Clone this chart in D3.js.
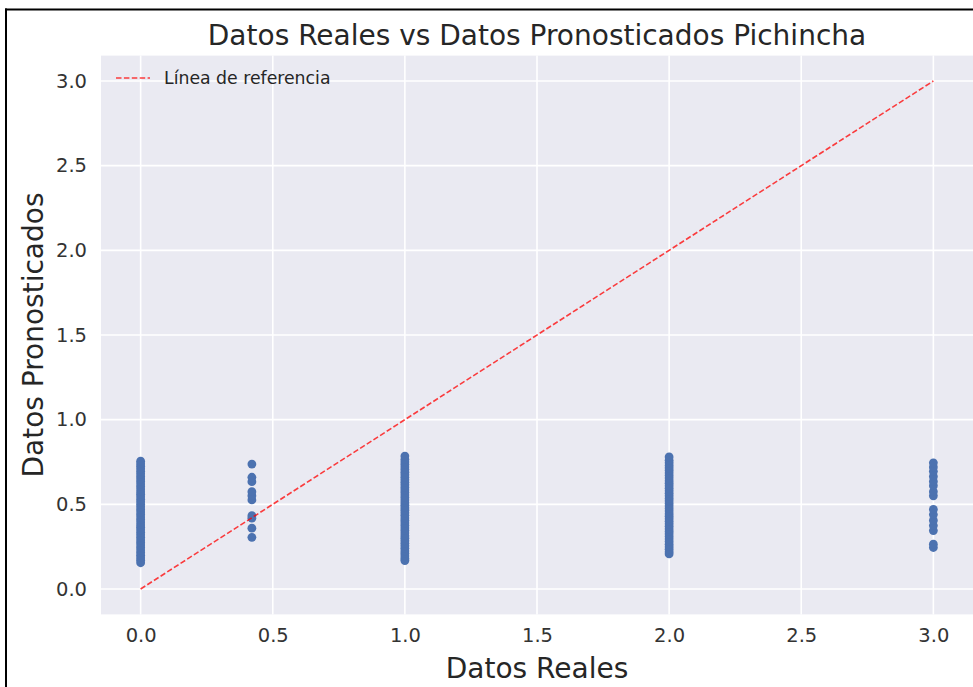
<!DOCTYPE html>
<html lang="en">
<head>
    <meta charset="UTF-8">
    <title>Datos Reales vs Datos Pronosticados Pichincha</title>
    <script src="https://d3js.org/d3.v7.min.js"></script>
    <style>
        body { margin: 0; padding: 0; background: #fff; }
        svg { display: block; font-family: "DejaVu Sans", sans-serif; }
    </style>
</head>
<body>
<script>
    // Valores reales (x) y pronosticados (y)
    const real0 = 0;
    const pred0 = [0.155, 0.17, 0.185, 0.2, 0.215, 0.23, 0.245, 0.26, 0.275, 0.29, 0.305, 0.32,
        0.335, 0.35, 0.365, 0.38, 0.395, 0.41, 0.425, 0.44, 0.455, 0.47, 0.485, 0.5, 0.515,
        0.53, 0.545, 0.56, 0.575, 0.59, 0.605, 0.62, 0.635, 0.65, 0.665, 0.68, 0.695, 0.71,
        0.725, 0.74, 0.755];
    const realB = 0.421;
    const predB = [0.305, 0.359, 0.418, 0.433, 0.526, 0.551, 0.575, 0.634, 0.66, 0.738];
    const real1 = 1;
    const pred1 = [0.168, 0.18, 0.195, 0.21, 0.225, 0.24, 0.255, 0.27, 0.285, 0.3, 0.315, 0.33,
        0.345, 0.36, 0.375, 0.39, 0.405, 0.42, 0.435, 0.45, 0.465, 0.48, 0.495, 0.51, 0.525,
        0.54, 0.555, 0.57, 0.585, 0.6, 0.615, 0.63, 0.645, 0.66, 0.675, 0.69, 0.705, 0.72,
        0.735, 0.75, 0.765, 0.785];
    const real2 = 2;
    const pred2 = [0.207, 0.22, 0.235, 0.25, 0.265, 0.28, 0.295, 0.31, 0.325, 0.34, 0.355, 0.37,
        0.385, 0.4, 0.415, 0.43, 0.445, 0.46, 0.475, 0.49, 0.505, 0.52, 0.535, 0.55, 0.565,
        0.58, 0.595, 0.61, 0.625, 0.64, 0.655, 0.67, 0.685, 0.7, 0.715, 0.73, 0.745, 0.76, 0.78];
    const real3 = 3;
    const pred3 = [0.245, 0.265, 0.345, 0.375, 0.405, 0.44, 0.47, 0.55, 0.575, 0.61, 0.635,
        0.665, 0.695, 0.72, 0.745];

    const refLine = [[0, 0], [3, 3]];
    const xTicks = [0.0, 0.5, 1.0, 1.5, 2.0, 2.5, 3.0];
    const yTicks = [0.0, 0.5, 1.0, 1.5, 2.0, 2.5, 3.0];

    const points = [].concat(
        pred0.map(v => [real0, v]),
        predB.map(v => [realB, v]),
        pred1.map(v => [real1, v]),
        pred2.map(v => [real2, v]),
        pred3.map(v => [real3, v])
    );

    const width = 973, height = 687;
    const margin = { top: 55.6, right: 0, bottom: 72.6, left: 101 };

    const svg = d3.select("body").append("svg")
        .attr("width", width)
        .attr("height", height);

    // marco negro de la captura
    svg.append("line").attr("x1", 5).attr("x2", width).attr("y1", 9.5).attr("y2", 9.5)
        .attr("stroke", "#000").attr("stroke-width", 2);
    svg.append("line").attr("x1", 6).attr("x2", 6).attr("y1", 8.5).attr("y2", height)
        .attr("stroke", "#000").attr("stroke-width", 2);

    const x = d3.scaleLinear().domain([-0.15, 3.15])
        .range([margin.left, width - margin.right]);
    const y = d3.scaleLinear().domain([-0.15, 3.15])
        .range([height - margin.bottom, margin.top]);

    const g = svg.append("g");

    g.append("rect")
        .attr("x", x.range()[0]).attr("y", y.range()[1])
        .attr("width", x.range()[1] - x.range()[0])
        .attr("height", y.range()[0] - y.range()[1])
        .attr("fill", "#eaeaf2");

    // rejilla
    g.selectAll(".gx").data(xTicks).enter().append("line")
        .attr("x1", d => x(d)).attr("x2", d => x(d))
        .attr("y1", y.range()[0]).attr("y2", y.range()[1])
        .attr("stroke", "#fff").attr("stroke-width", 1.6);
    g.selectAll(".gy").data(yTicks).enter().append("line")
        .attr("y1", d => y(d)).attr("y2", d => y(d))
        .attr("x1", x.range()[0]).attr("x2", x.range()[1])
        .attr("stroke", "#fff").attr("stroke-width", 1.6);

    // puntos
    g.selectAll("circle").data(points).enter().append("circle")
        .attr("cx", d => x(d[0]))
        .attr("cy", d => y(d[1]))
        .attr("r", 4.4)
        .attr("fill", "#4c72b0");

    // linea de referencia
    g.append("path")
        .attr("d", d3.line().x(d => x(d[0])).y(d => y(d[1]))(refLine))
        .attr("fill", "none")
        .attr("stroke", "#ff0000")
        .attr("stroke-opacity", 0.75)
        .attr("stroke-width", 1.6)
        .attr("stroke-dasharray", "5.5,2.4");

    // ejes (sin marcas, solo etiquetas)
    const xAxis = svg.append("g")
        .attr("transform", `translate(0,${y.range()[0]})`)
        .call(d3.axisBottom(x).tickValues(xTicks).tickFormat(d3.format(".1f")).tickSize(0).tickPadding(14));
    const yAxis = svg.append("g")
        .attr("transform", `translate(${x.range()[0]},0)`)
        .call(d3.axisLeft(y).tickValues(yTicks).tickFormat(d3.format(".1f")).tickSize(0).tickPadding(14));
    [xAxis, yAxis].forEach(a => {
        a.select(".domain").remove();
        a.selectAll("text")
            .attr("font-family", "DejaVu Sans")
            .attr("font-size", 19.5)
            .attr("fill", "#333");
    });

    // leyenda
    svg.append("line")
        .attr("x1", 116).attr("x2", 150).attr("y1", 78).attr("y2", 78)
        .attr("stroke", "#ff0000").attr("stroke-opacity", 0.75)
        .attr("stroke-width", 1.6).attr("stroke-dasharray", "5.5,2.4");
    svg.append("text")
        .attr("x", 164).attr("y", 78).attr("dy", "0.35em")
        .attr("font-size", 17.3).attr("fill", "#262626")
        .text("Línea de referencia");

    // titulo y etiquetas
    svg.append("text")
        .attr("x", (x.range()[0] + x.range()[1]) / 2).attr("y", 35).attr("dy", "0.35em")
        .attr("text-anchor", "middle").attr("font-size", 28).attr("fill", "#262626")
        .text("Datos Reales vs Datos Pronosticados Pichincha");
    svg.append("text")
        .attr("x", (x.range()[0] + x.range()[1]) / 2).attr("y", 668).attr("dy", "0.35em")
        .attr("text-anchor", "middle").attr("font-size", 28).attr("fill", "#262626")
        .text("Datos Reales");
    svg.append("text")
        .attr("transform", `translate(33,${(y.range()[0] + y.range()[1]) / 2}) rotate(-90)`)
        .attr("dy", "0.35em")
        .attr("text-anchor", "middle").attr("font-size", 28).attr("fill", "#262626")
        .text("Datos Pronosticados");
</script>
</body>
</html>
